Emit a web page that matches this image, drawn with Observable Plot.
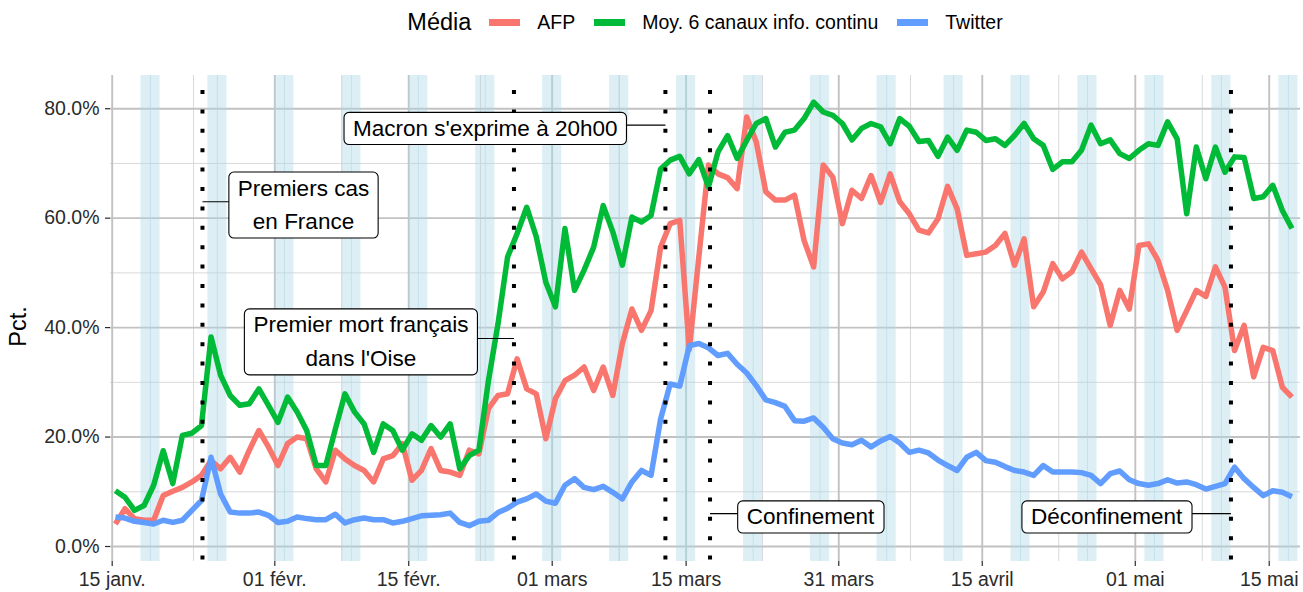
<!DOCTYPE html>
<html>
<head>
<meta charset="utf-8">
<script src="https://cdn.jsdelivr.net/npm/d3@7"></script>
<script src="https://cdn.jsdelivr.net/npm/@observablehq/plot@0.6"></script>
<style>
  html, body { margin: 0; padding: 0; background: #fff; }
  body { font-family: "Liberation Sans", Arial, sans-serif; }
  #wrap { position: relative; width: 1303px; height: 592px; overflow: hidden; }
  #legend { position: absolute; left: 110px; top: 0; width: 1190px; height: 45px;
            display: flex; align-items: center; justify-content: center; color: #000; }
  #legend .title { font-size: 23.5px; margin-right: 18px; }
  #legend .sw { width: 31px; height: 6.5px; margin-right: 17px; }
  #legend .lab { font-size: 19.5px; margin-right: 19px; }
  #chart { position: absolute; left: 0; top: 45px; }
</style>
</head>
<body>
<div id="wrap">
  <div id="legend"></div>
  <div id="chart"></div>
</div>
<script>
// ---- Data (percent), daily from 15 Jan 2020 to 17 May 2020 ----
const mediaNames = ["AFP", "Moy. 6 canaux info. continu", "Twitter"];
const mediaColors = ["#F8766D", "#00BA38", "#619CFF"];

const afp = [
  4.1, 6.9, 5.1, 4.8, 4.8, 9.3, 10.1, 10.8, 11.8, 13.0,
  15.7, 14.2, 16.3, 13.6, 17.6, 21.2, 18.2, 14.8, 18.8, 20.0,
  19.7, 14.2, 11.8, 17.6, 16.0, 14.8, 13.9, 11.8, 16.0, 16.6,
  18.8, 12.1, 13.9, 17.9, 13.9, 13.6, 13.0, 17.6, 16.9, 25.2,
  27.6, 27.9, 34.3, 28.8, 27.9, 19.7, 27.0, 30.3, 31.3, 32.8,
  28.5, 32.8, 27.6, 37.1, 43.4, 39.5, 43.1, 54.7, 59.0, 59.6,
  36.0, 53.0, 69.7, 68.1, 67.4, 65.4, 78.5, 73.9, 64.8, 63.3,
  63.3, 64.2, 55.9, 51.1, 69.7, 67.5, 59.0, 65.1, 63.6, 67.8,
  62.9, 68.1, 63.0, 60.8, 57.8, 57.3, 59.9, 65.8, 61.7, 53.2,
  53.5, 53.8, 55.0, 57.2, 51.4, 56.2, 43.8, 46.5, 51.7, 48.9,
  50.2, 53.8, 50.8, 47.8, 40.4, 46.8, 43.4, 55.0, 55.3, 52.3,
  46.8, 39.5, 43.1, 46.8, 45.7, 51.1, 47.4, 35.8, 40.4, 31.0,
  36.4, 35.8, 29.1, 27.3
];
const chaines = [
  10.2, 9.0, 6.6, 7.5, 11.2, 17.5, 11.5, 20.3, 20.7, 22.1,
  38.3, 31.3, 27.6, 25.8, 26.1, 28.8, 25.8, 22.7, 27.3, 24.6,
  21.2, 14.8, 14.8, 21.5, 27.9, 24.6, 22.4, 17.2, 22.4, 21.2,
  17.6, 20.6, 19.4, 22.1, 20.0, 22.4, 14.2, 16.6, 17.6, 30.3,
  40.7, 52.9, 57.2, 62.0, 56.6, 48.3, 43.8, 58.1, 46.8, 50.5,
  54.7, 62.3, 57.5, 51.4, 60.2, 59.3, 60.5, 69.0, 70.6, 71.3,
  68.1, 70.7, 65.7, 72.1, 75.1, 70.9, 74.2, 77.3, 78.2, 73.0,
  75.7, 76.1, 78.2, 81.2, 79.4, 78.8, 77.3, 74.3, 76.4, 77.3,
  76.7, 73.6, 78.2, 76.8, 74.0, 74.2, 71.3, 74.8, 72.4, 76.1,
  75.7, 74.2, 74.5, 73.3, 75.1, 77.3, 74.5, 73.3, 68.9, 70.3,
  70.3, 72.4, 77.0, 73.6, 74.3, 71.8, 70.9, 72.4, 73.6, 73.3,
  77.6, 74.5, 60.8, 73.0, 67.2, 73.0, 68.4, 71.2, 71.1, 63.6,
  63.9, 66.0, 61.4, 58.1
];
const twitter = [
  5.4, 5.2, 4.6, 4.4, 4.1, 4.8, 4.4, 4.8, 6.6, 8.4,
  16.3, 9.6, 6.3, 6.1, 6.1, 6.3, 5.7, 4.4, 4.6, 5.4,
  5.1, 4.9, 4.9, 5.9, 4.3, 4.9, 5.2, 4.9, 4.9, 4.3,
  4.6, 5.1, 5.6, 5.7, 5.8, 6.1, 4.4, 3.8, 4.6, 4.8,
  6.2, 7.0, 8.1, 8.7, 9.6, 8.3, 7.9, 11.2, 12.4, 10.8,
  10.4, 11.0, 9.9, 8.7, 11.8, 13.9, 13.0, 23.3, 29.7, 29.3,
  36.7, 37.1, 36.3, 34.9, 35.3, 33.3, 31.7, 29.4, 26.8, 26.3,
  25.6, 23.0, 22.9, 23.5, 21.8, 19.7, 18.9, 18.6, 19.4, 18.2,
  19.3, 20.1, 18.9, 17.2, 17.6, 17.1, 15.8, 14.8, 13.9, 16.3,
  17.2, 15.7, 15.4, 14.6, 13.9, 13.6, 13.0, 14.8, 13.6, 13.6,
  13.6, 13.5, 13.0, 11.5, 13.3, 13.8, 12.2, 11.5, 11.2, 11.5,
  12.2, 11.6, 11.8, 11.3, 10.5, 11.0, 11.5, 14.5, 12.4, 10.8,
  9.3, 10.2, 9.9, 9.1
];

// Weekend days (Saturdays and Sundays)
const weekendDays = [
  "2020-01-18","2020-01-19","2020-01-25","2020-01-26","2020-02-01","2020-02-02",
  "2020-02-08","2020-02-09","2020-02-15","2020-02-16","2020-02-22","2020-02-23",
  "2020-02-29","2020-03-01","2020-03-07","2020-03-08","2020-03-14","2020-03-15",
  "2020-03-21","2020-03-22","2020-03-28","2020-03-29","2020-04-04","2020-04-05",
  "2020-04-11","2020-04-12","2020-04-18","2020-04-19","2020-04-25","2020-04-26",
  "2020-05-02","2020-05-03","2020-05-09","2020-05-10","2020-05-16","2020-05-17"
];

// Axis ticks
const tickDates = [
  "2020-01-15T00:00+01:00","2020-02-01T00:00+01:00","2020-02-15T00:00+01:00",
  "2020-03-01T00:00+01:00","2020-03-15T00:00+01:00","2020-03-31T00:00+02:00",
  "2020-04-15T00:00+02:00","2020-05-01T00:00+02:00","2020-05-15T00:00+02:00"
];
const tickLabels = ["15 janv.","01 févr.","15 févr.","01 mars","15 mars","31 mars","15 avril","01 mai","15 mai"];
const yTicks = [0, 20, 40, 60, 80];
const yMinor = [10, 30, 50, 70];

// Events and annotations
const eventDates = ["2020-01-24T10:30+01:00","2020-02-26T00:00+01:00","2020-03-12T20:00+01:00","2020-03-17T12:00+01:00","2020-05-11T00:00+02:00"];
const eventLabels = ["Premiers cas\nen France","Premier mort français\ndans l'Oise","Macron s'exprime à 20h00","Confinement","Déconfinement"];
const labelDates = ["2020-02-04T00:00+01:00","2020-02-10T00:00+01:00","2020-02-23T00:00+01:00","2020-03-28T00:00+01:00","2020-04-28T00:00+02:00"];
const labelValues = [63, 38, 77, 6, 6];

// ---- Build tables ----
const DAY = 864e5;
const firstDay = Date.UTC(2020, 0, 15, 7, 0);
const days = afp.map((_, i) => new Date(firstDay + i * DAY));
const rows = [];
[afp, chaines, twitter].forEach((vals, k) =>
  vals.forEach((v, i) => rows.push({date: days[i], media: mediaNames[k], value: v / 100})));

const localMidnight = s => new Date(s + "T00:00:00" + (s > "2020-03-29" ? "+02:00" : "+01:00"));
const weekends = weekendDays.map(s => ({start: localMidnight(s), end: new Date(+localMidnight(s) + DAY)}));
const sundays = weekendDays.filter(s => new Date(s + "T12:00Z").getUTCDay() === 0).map(localMidnight);

const xTicks = tickDates.map(s => new Date(s));
const xLabelMap = new Map(xTicks.map((d, i) => [+d, tickLabels[i]]));
const xMinor = xTicks.slice(1).map((d, i) => new Date((+d + +xTicks[i]) / 2));

const annotations = eventLabels.map((label, i) => ({
  label, event: new Date(eventDates[i]), pos: new Date(labelDates[i]), value: labelValues[i] / 100
}));

// ---- Legend ----
const legend = document.getElementById("legend");
legend.innerHTML = `<span class="title">Média</span>` + mediaNames.map((n, i) =>
  `<span class="sw" style="background:${mediaColors[i]}"></span><span class="lab"${i === mediaNames.length - 1 ? ' style="margin-right:0"' : ''}>${n}</span>`).join("");

// ---- Plot ----
const chart = Plot.plot({
  width: 1303,
  height: 547,
  marginLeft: 110,
  marginRight: 3,
  marginTop: 30,
  marginBottom: 31,
  style: {fontFamily: "Liberation Sans, Arial, sans-serif", fontSize: "19.5px", background: "white", color: "#2b2b2b"},
  x: {type: "utc", domain: [new Date("2020-01-14T18:44Z"), new Date("2020-05-18T04:30Z")]},
  y: {domain: [-0.0274, 0.8607]},
  color: {domain: mediaNames, range: mediaColors},
  marks: [
    Plot.ruleY(yMinor.map(v => v / 100), {stroke: "#d9d9d9", strokeWidth: 1}),
    Plot.ruleX(xMinor, {stroke: "#d9d9d9", strokeWidth: 1}),
    Plot.ruleY(yTicks.map(v => v / 100), {stroke: "#c2c2c2", strokeWidth: 1.9}),
    Plot.ruleX(xTicks, {stroke: "#c2c2c2", strokeWidth: 1.9}),
    Plot.rect(weekends, {x1: "start", x2: "end", fill: "#add8e6", fillOpacity: 0.42}),
    Plot.ruleX(sundays, {stroke: "#add8e6", strokeWidth: 1, strokeOpacity: 0.6}),
    Plot.line(rows, {x: "date", y: "value", stroke: "media", strokeWidth: 5.5, strokeLinecap: "butt", strokeLinejoin: "round"}),
    Plot.ruleX(annotations, {x: "event", stroke: "#000", strokeWidth: 4, strokeDasharray: "4 15.4", strokeDashoffset: 4.4, strokeLinecap: "butt"}),
    Plot.link(annotations, {x1: "event", x2: "pos", y1: "value", y2: "value", stroke: "#000", strokeWidth: 1.1}),
    Plot.axisY(yTicks.map(v => v / 100), {tickFormat: d => (d * 100).toFixed(1) + "%", tickSize: 5, tickPadding: 6, fontSize: 19.5, label: null, strokeWidth: 1.2}),
    Plot.axisX(xTicks, {tickFormat: d => xLabelMap.get(+d), tickSize: 5, tickPadding: 6, fontSize: 19.5, label: null, strokeWidth: 1.2}),
    Plot.text(["Pct."], {frameAnchor: "left", textAnchor: "middle", text: d => d, rotate: -90, dx: -92, dy: 8, fontSize: 23.5, fill: "#000"}),
    Plot.text(annotations, {x: "pos", y: "value", text: "label", fontSize: 22.5, lineHeight: 1.5, fill: "#000"})
  ]
});
document.getElementById("chart").append(chart);

// Rounded boxes behind annotation texts
const flat = new Set(eventLabels.map(s => s.replace(/\n/g, "")));
const NS = "http://www.w3.org/2000/svg";
chart.querySelectorAll("text").forEach(t => {
  if (!flat.has(t.textContent)) return;
  const b = t.getBBox();
  const r = document.createElementNS(NS, "rect");
  r.setAttribute("x", b.x - 9);
  r.setAttribute("y", b.y - 3.6);
  r.setAttribute("width", b.width + 18);
  r.setAttribute("height", b.height + 7.2);
  r.setAttribute("rx", 5);
  r.setAttribute("fill", "#fff");
  r.setAttribute("stroke", "#000");
  r.setAttribute("stroke-width", 1.1);
  if (t.getAttribute("transform")) r.setAttribute("transform", t.getAttribute("transform"));
  t.parentNode.insertBefore(r, t);
});
</script>
</body>
</html>
